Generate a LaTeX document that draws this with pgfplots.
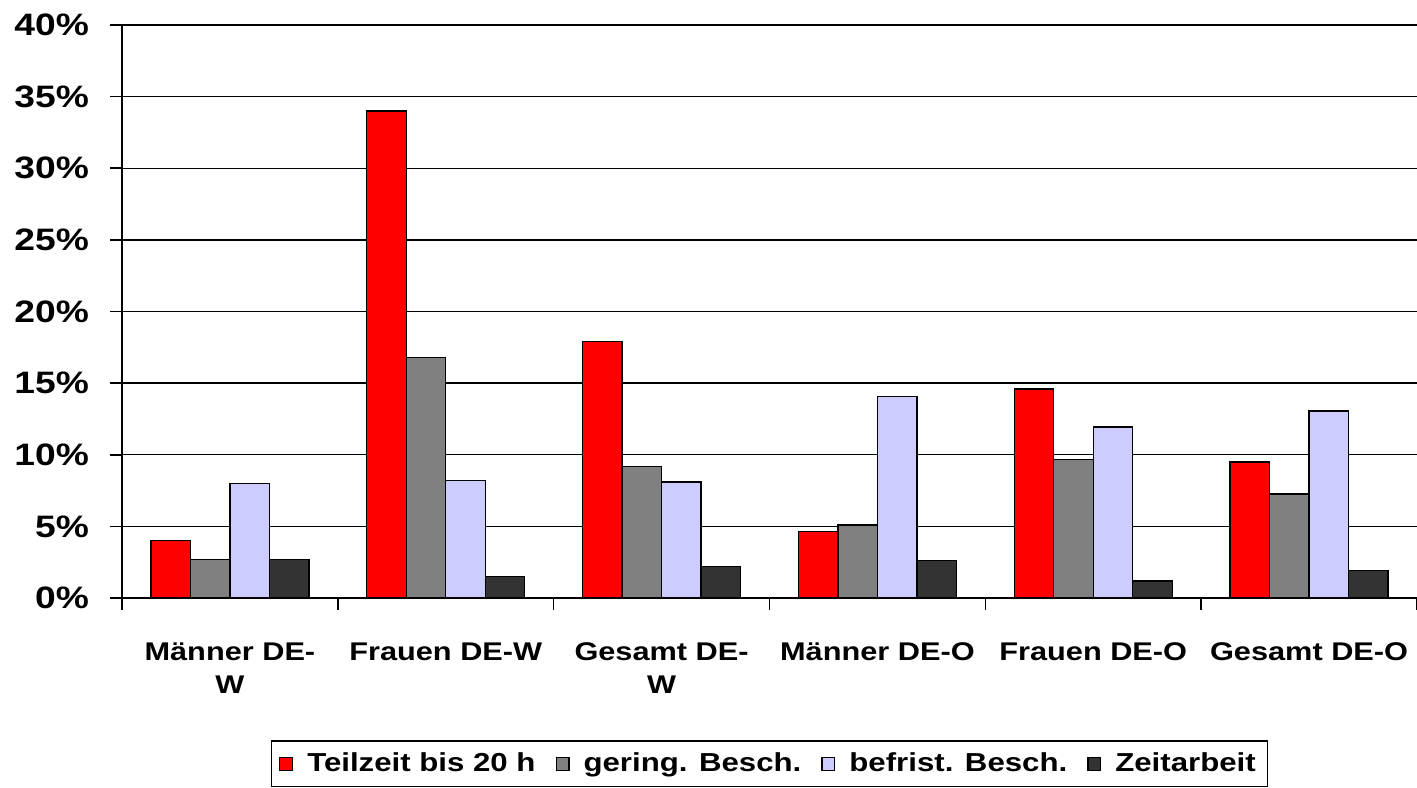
\documentclass[border=0pt]{standalone}
\usepackage{pgfplots}
\pgfplotsset{compat=1.18}
\usepackage{fontspec}
\setmainfont{Liberation Sans}[FakeStretch=1.2]

\definecolor{teilzeit}{HTML}{FF0000}
\definecolor{gering}{HTML}{808080}
\definecolor{befrist}{HTML}{CCCCFF}
\definecolor{zeitarb}{HTML}{333333}

% x: Gruppe, Werte in Prozent
\pgfplotstableread{
x  teil  ger   bef   zeit
0  4.0   2.7   8.0   2.7
1  34.0  16.8  8.2   1.5
2  17.9  9.2   8.1   2.2
3  4.65  5.1   14.05 2.6
4  14.6  9.65  11.95 1.2
5  9.5   7.25  13.05 1.9
}\data

\pgfplotsset{
  sq/.style={legend image code/.code={
    \draw[##1,draw=black,line width=0.6pt] (0pt,-3.2pt) rectangle (6.4pt,3.2pt);}},
}

\begin{document}
\begin{tikzpicture}
\begin{axis}[
  scale only axis,
  width=647.5pt, height=286.5pt,
  ybar=0pt, bar width=19.75pt,
  xmin=-0.5, xmax=5.5, ymin=0, ymax=40,
  axis x line=bottom, axis y line=left,
  axis line style={-, line width=0.9pt},
  xtick={-0.5,0.5,...,5.5},
  x tick label as interval,
  xticklabels={{Männer DE-\\W},{Frauen DE-W},{Gesamt DE-\\W},{Männer DE-O},{Frauen DE-O},{Gesamt DE-O}},
  ytick={0,5,...,40},
  yticklabel={\pgfmathprintnumber{\tick}\%},
  /pgf/number format/assume math mode=true,
  tick align=outside, major tick length=6pt,
  tick style={black, line width=0.8pt},
  ymajorgrids, grid style={black, line width=0.7pt},
  yticklabel style={font=\fontsize{15.5}{18}\selectfont\bfseries, xshift=-7pt},
  xticklabel style={font=\fontsize{12.8}{16.5}\selectfont\bfseries, align=center, yshift=-13pt},
  legend columns=4,
  legend style={at={(0.5,-0.248)}, anchor=north, draw=black, line width=0.7pt,
    font=\fontsize{13}{15.5}\selectfont\bfseries,
    /tikz/every odd column/.append style={column sep=5pt},
    /tikz/every even column/.append style={column sep=8pt},
    inner ysep=4pt, inner xsep=4pt},
]
\addplot[fill=teilzeit, draw=black, line width=0.7pt, sq] table[x=x, y=teil] {\data};
\addplot[fill=gering, draw=black, line width=0.7pt, sq] table[x=x, y=ger] {\data};
\addplot[fill=befrist, draw=black, line width=0.7pt, sq] table[x=x, y=bef] {\data};
\addplot[fill=zeitarb, draw=black, line width=0.7pt, sq] table[x=x, y=zeit] {\data};
\legend{Teilzeit bis 20 h, gering. Besch., befrist. Besch., Zeitarbeit}
\coordinate (bb1) at (rel axis cs:0,0);
\coordinate (bb2) at (rel axis cs:1,1);
\end{axis}
\pgfresetboundingbox
\path[use as bounding box] ([shift={(-61pt,-94.5pt)}]bb1) rectangle ([shift={(0pt,12.5pt)}]bb2);
\end{tikzpicture}
\end{document}
